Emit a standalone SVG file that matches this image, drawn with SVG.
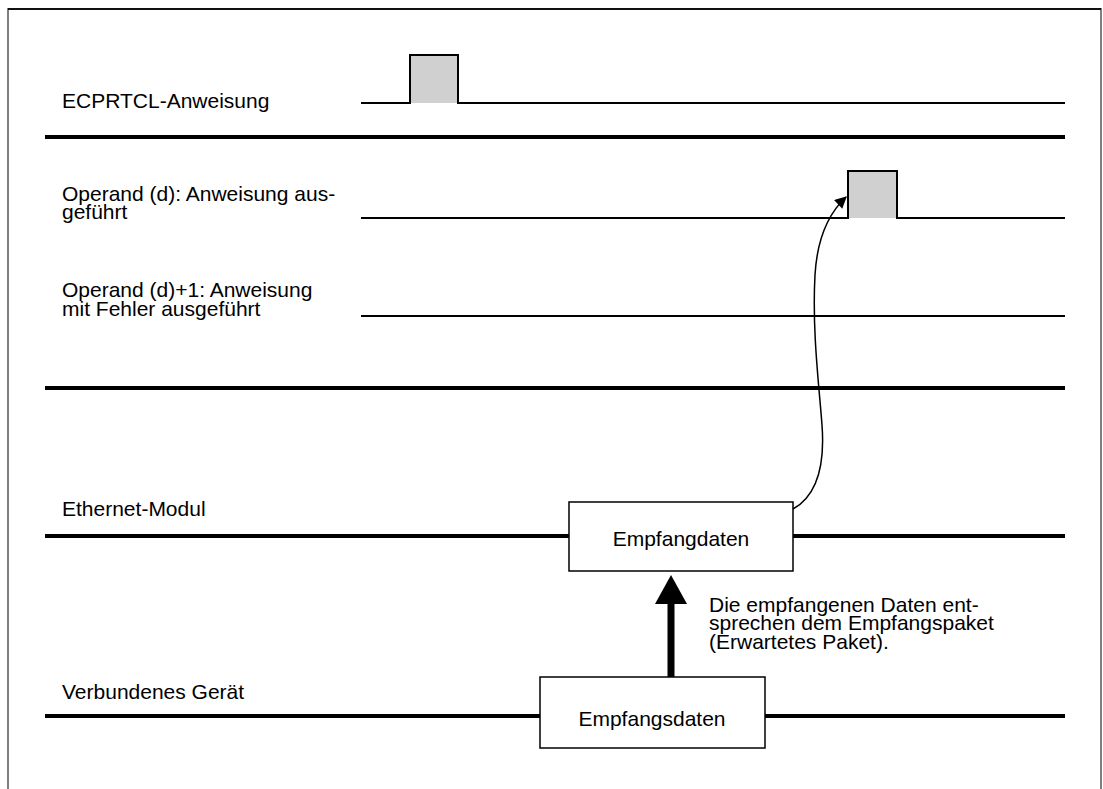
<svg xmlns="http://www.w3.org/2000/svg" width="1103" height="789" viewBox="0 0 1103 789">
<style>
text{font-family:"Liberation Sans",Arial,sans-serif;font-size:21px;fill:#000}
.sig{fill:none;stroke:#000;stroke-width:2}
.pulse{fill:#cfd0cf;stroke:none}
.sep{stroke:#000;stroke-width:4}
.box{fill:#fff;stroke:#000;stroke-width:1.5}
.mid{text-anchor:middle}
</style>
<defs>
<marker id="ah" viewBox="0 0 10 10" refX="9" refY="5" markerWidth="14" markerHeight="12" markerUnits="userSpaceOnUse" orient="auto">
<path d="M0,0 L10,5 L0,10 z" fill="#000"/>
</marker>
</defs>
<rect width="1103" height="789" fill="#fff"/>
<g id="frame">
<path d="M8,789 V9 H1101 V789" fill="none" stroke="#808080" stroke-width="2"/>
<line x1="8" y1="9" x2="1101" y2="9" stroke="#111" stroke-width="2"/>
</g>
<g id="sig-ecprtcl">
<text x="62" y="108">ECPRTCL-Anweisung</text>
<rect class="pulse" x="410" y="55" width="48" height="48"/>
<path class="sig" d="M361,103 H410 V55 H458 V103 H1065"/>
</g>
<line class="sep" x1="45" y1="137" x2="1065" y2="137"/>
<g id="sig-operand-d">
<text x="62" y="201">Operand (d): Anweisung aus-</text>
<text x="62" y="219">geführt</text>
<rect class="pulse" x="848" y="171" width="49" height="47"/>
<path class="sig" d="M361,218 H848 V171 H897 V218 H1065"/>
</g>
<g id="sig-operand-d1">
<text x="62" y="297">Operand (d)+1: Anweisung</text>
<text x="62" y="316">mit Fehler ausgeführt</text>
<path class="sig" d="M361,316 H1065"/>
</g>
<line class="sep" x1="45" y1="388" x2="1065" y2="388"/>
<g id="ethernet-modul">
<text x="62" y="516">Ethernet-Modul</text>
<line class="sep" x1="45" y1="536" x2="569" y2="536"/>
<line class="sep" x1="793" y1="536" x2="1065" y2="536"/>
<rect class="box" x="569" y="502" width="224" height="69"/>
<text class="mid" x="681" y="546">Empfangdaten</text>
</g>
<g id="verbundenes-geraet">
<text x="62" y="699">Verbundenes Gerät</text>
<line class="sep" x1="45" y1="716" x2="540" y2="716"/>
<line class="sep" x1="765" y1="716" x2="1065" y2="716"/>
<rect class="box" x="540" y="677" width="225" height="71"/>
<text class="mid" x="652" y="726">Empfangsdaten</text>
</g>
<g id="note">
<text x="709" y="612">Die empfangenen Daten ent-</text>
<text x="709" y="630">sprechen dem Empfangspaket</text>
<text x="709" y="649">(Erwartetes Paket).</text>
</g>
<g id="connectors">
<line x1="671" y1="677" x2="671" y2="600" stroke="#000" stroke-width="7"/>
<path d="M671,575 L687,604 L655,604 z" fill="#000"/>
<path d="M793,509 C818,495 825,465 822,425 C819,385 812,330 815,275 C817,240 828,214 846,197" fill="none" stroke="#000" stroke-width="1.5" marker-end="url(#ah)"/>
</g>
</svg>
